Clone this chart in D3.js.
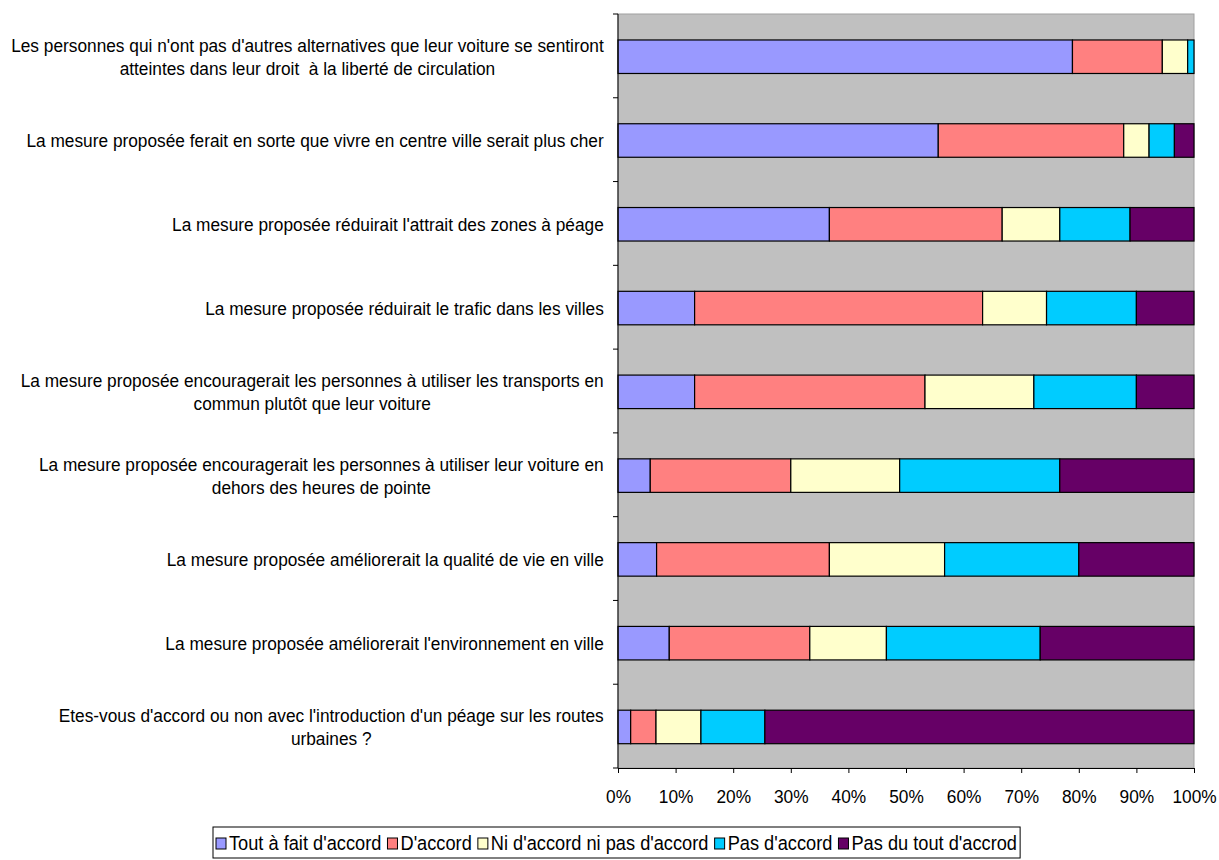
<!DOCTYPE html>
<html><head><meta charset="utf-8">
<script src="https://cdn.jsdelivr.net/npm/d3@7"></script>
<style>body{margin:0;background:#fff}svg{display:block}text{font-family:"Liberation Sans",Arial,sans-serif;fill:#000;white-space:pre}</style>
</head><body>
<svg id="c" width="1219" height="860"></svg>
<script>
const categories = [
  ["Les personnes qui n'ont pas d'autres alternatives que leur voiture se sentiront", "atteintes dans leur droit  à la liberté de circulation"],
  ["La mesure proposée ferait en sorte que vivre en centre ville serait plus cher"],
  ["La mesure proposée réduirait l'attrait des zones à péage"],
  ["La mesure proposée réduirait le trafic dans les villes"],
  ["La mesure proposée encouragerait les personnes à utiliser les transports en", "commun plutôt que leur voiture"],
  ["La mesure proposée encouragerait les personnes à utiliser leur voiture en", "dehors des heures de pointe"],
  ["La mesure proposée améliorerait la qualité de vie en ville"],
  ["La mesure proposée améliorerait l'environnement en ville"],
  ["Etes-vous d'accord ou non avec l'introduction d'un péage sur les routes", "urbaines ?"]
];
const seriesNames = ["Tout à fait d'accord", "D'accord", "Ni d'accord ni pas d'accord", "Pas d'accord", "Pas du tout d'accrod"];
const toutAFait   = [78.9, 55.6, 36.7, 13.3, 13.3, 5.6, 6.7, 8.9, 2.2];
const daccord     = [15.6, 32.2, 30.0, 50.0, 40.0, 24.4, 30.0, 24.4, 4.4];
const niNi        = [4.4, 4.4, 10.0, 11.1, 18.9, 18.9, 20.0, 13.3, 7.8];
const pasDaccord  = [1.1, 4.4, 12.2, 15.6, 17.8, 27.8, 23.3, 26.7, 11.1];
const pasDuTout   = [0.0, 3.4, 11.1, 10.0, 10.0, 23.3, 20.0, 26.7, 74.5];
const xTicks = [0, 0.1, 0.2, 0.3, 0.4, 0.5, 0.6, 0.7, 0.8, 0.9, 1.0];
const colors = ["#9999FF", "#FF8080", "#FFFFCC", "#00CCFF", "#660066"];

const svg = d3.select("#c");
const L = 618, R = 1194, T = 14, B = 768;
const series = [toutAFait, daccord, niNi, pasDaccord, pasDuTout];
const rows = categories.map((c, i) => {
  const o = {i};
  series.forEach((s, k) => o["s" + k] = s[i]);
  return o;
});
const stack = d3.stack().keys(seriesNames.map((d, k) => "s" + k)).offset(d3.stackOffsetExpand);
const stacked = stack(rows);

const x = d3.scaleLinear().domain([0, 1]).range([L, R]);
const yb = d3.scaleBand().domain(d3.range(categories.length)).range([T, B]);

const fs = 18.5, lh = 23, sx = 0.935;

svg.append("rect").attr("x", L).attr("y", T).attr("width", R - L).attr("height", B - T)
  .attr("fill", "#C0C0C0").attr("stroke", "#A0A0A0").attr("stroke-width", 1);

svg.append("g").selectAll("g").data(stacked).join("g")
  .attr("fill", (d, k) => colors[k])
  .selectAll("rect").data(d => d).join("rect")
  .attr("x", d => x(d[0]))
  .attr("width", d => Math.max(0, x(d[1]) - x(d[0])))
  .attr("y", (d, i) => yb(i) + yb.bandwidth() * 0.31)
  .attr("height", yb.bandwidth() * 0.4)
  .attr("stroke", "#000").attr("stroke-width", 1.2)
  .style("display", d => d[1] - d[0] <= 0 ? "none" : null);

// x axis
const xa = svg.append("g").attr("transform", `translate(0,${B})`)
  .call(d3.axisBottom(x).tickValues(xTicks).tickFormat(d3.format(".0%")).tickSize(5).tickSizeOuter(0));
xa.select(".domain").attr("stroke", "#000");
xa.selectAll(".tick line").attr("stroke", "#000");
xa.selectAll(".tick text").attr("y", 0).attr("dy", 0).attr("font-size", fs)
  .style("font-family", "Liberation Sans, Arial")
  .attr("transform", `translate(0,35) scale(${sx},1)`);

// y axis line + ticks at band boundaries
svg.append("line").attr("x1", L).attr("x2", L).attr("y1", T).attr("y2", B).attr("stroke", "#000");
svg.append("g").selectAll("line").data(d3.range(categories.length + 1)).join("line")
  .attr("x1", L - 5).attr("x2", L)
  .attr("y1", i => i < categories.length ? yb(i) : B)
  .attr("y2", i => i < categories.length ? yb(i) : B)
  .attr("stroke", "#000");

// category labels
const lab = svg.append("g");
categories.forEach((lines, i) => {
  const cy = yb(i) + yb.bandwidth() / 2 + 1;
  const g = lab.append("g");
  const ts = lines.map((t, j) => g.append("text").attr("font-size", fs).attr("text-anchor", "middle")
    .attr("y", cy + (j - (lines.length - 1) / 2) * lh).attr("dy", "0.35em").text(t));
  const w = d3.max(ts, t => t.node().getComputedTextLength());
  const cx = 604 - w * sx / 2;
  g.attr("transform", `translate(${cx},0) scale(${sx},1)`);
});

// legend
const leg = svg.append("g");
const lfs = 19.5, ly = 850, gap = 6;
let cxL = 0;
const items = seriesNames.map((n, k) => {
  const g = leg.append("g");
  g.append("rect").attr("x", 0).attr("y", ly - 12).attr("width", 10).attr("height", 11)
    .attr("fill", colors[k]).attr("stroke", "#000");
  const t = g.append("text").attr("x", 0).attr("y", ly).attr("font-size", lfs).text(n);
  return {g, t, w: 13 + t.node().getComputedTextLength() * sx};
});
items.forEach(it => {
  it.t.attr("transform", `translate(13,0) scale(${sx},1)`);
  it.g.attr("transform", `translate(${cxL},0)`);
  cxL += it.w + gap;
});
const totalW = cxL - gap;
const lx0 = 216;
leg.attr("transform", `translate(${lx0},0)`);
svg.insert("rect", "g").attr("x", lx0 - 3).attr("y", 827).attr("width", totalW + 6).attr("height", 31)
  .attr("fill", "#fff").attr("stroke", "#000");
</script>
</body></html>
